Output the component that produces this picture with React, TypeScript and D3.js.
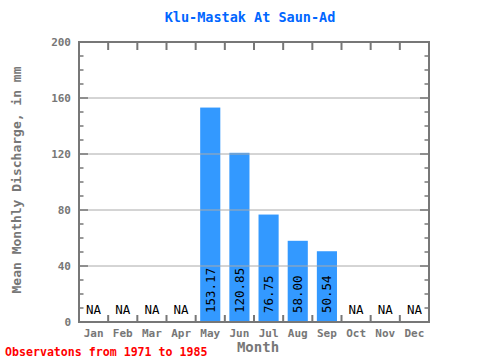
import React from "react";
import * as d3 from "d3";

const months = ["Jan","Feb","Mar","Apr","May","Jun","Jul","Aug","Sep","Oct","Nov","Dec"];
const values: (number | null)[] = [null,null,null,null,153.17,120.85,76.75,58.00,50.54,null,null,null];
const yTicks = [0,40,80,120,160,200];
const title = "Klu-Mastak At Saun-Ad";
const yLabel = "Mean Monthly Discharge, in mm";
const xLabel = "Month";
const footer = "Observatons from 1971 to 1985";

const W = 480, H = 360;
const L = 79, R = 429, T = 42, B = 322;
const font = "'DejaVu Sans Mono', 'Liberation Mono', monospace";
const axisColor = "#777777";

export default function App() {
  const x = d3.scaleBand<string>().domain(months).range([L, R]).paddingInner(0.31).paddingOuter(0.155);
  const xb = d3.scaleBand<string>().domain(months).range([L, R]);
  const y = d3.scaleLinear().domain([0, 200]).range([B, T]);
  const minor = d3.range(0, 201, 10);
  return (
    <svg width={W} height={H} style={{ position: "absolute", left: 0, top: 0 }}>
      <rect width={W} height={H} fill="white" />
      <text x={250} y={22} textAnchor="middle" fill="#0066ff" fontFamily={font} fontWeight="bold" fontSize={13.5}>{title}</text>
      {months.map((m, i) => {
        const v = values[i];
        if (v == null) return null;
        return <rect key={m} x={x(m)} y={y(v)} width={x.bandwidth()} height={B - y(v)} fill="#3399ff" />;
      })}
      {yTicks.filter(t => t > 0 && t < 200).map(t => (
        <line key={t} x1={L} x2={R} y1={y(t)} y2={y(t)} stroke="#aaaaaa" strokeWidth={1} />
      ))}
      {minor.map(t => {
        const major = t % 40 === 0;
        const len = major ? 9 : 4.5;
        return (
          <g key={t}>
            <line x1={L} x2={L + len} y1={y(t)} y2={y(t)} stroke={axisColor} strokeWidth={1.5} />
            <line x1={R} x2={R - len} y1={y(t)} y2={y(t)} stroke={axisColor} strokeWidth={1.5} />
          </g>
        );
      })}
      {months.slice(1).map(m => (
        <g key={m}>
          <line x1={xb(m)} x2={xb(m)} y1={T} y2={T + 8} stroke={axisColor} strokeWidth={2} />
          <line x1={xb(m)} x2={xb(m)} y1={B} y2={B - 7} stroke={axisColor} strokeWidth={2} />
        </g>
      ))}
      <rect x={L} y={T} width={R - L} height={B - T} fill="none" stroke={axisColor} strokeWidth={2} />
      {yTicks.map(t => (
        <text key={t} x={71} y={y(t) + 4} textAnchor="end" fill={axisColor} fontFamily={font} fontWeight="bold" fontSize={11}>{t}</text>
      ))}
      {months.map(m => (
        <text key={m} x={xb(m)! + xb.bandwidth() / 2} y={337} textAnchor="middle" fill={axisColor} fontFamily={font} fontWeight="bold" fontSize={11}>{m}</text>
      ))}
      {months.map((m, i) => {
        const v = values[i];
        const cx = xb(m)! + xb.bandwidth() / 2;
        if (v == null) {
          return <text key={m} x={cx} y={314} textAnchor="middle" fill="#000" fontFamily={font} fontSize={12.5}>NA</text>;
        }
        return (
          <text key={m} transform={`translate(${cx + 4.5},${313}) rotate(-90)`} textAnchor="start" fill="#000" fontFamily={font} fontSize={12.5}>{v.toFixed(2)}</text>
        );
      })}
      <text transform={`translate(21,${180}) rotate(-90)`} textAnchor="middle" fill={axisColor} fontFamily={font} fontWeight="bold" fontSize={13}>{yLabel}</text>
      <text x={258} y={352} textAnchor="middle" fill={axisColor} fontFamily={font} fontWeight="bold" fontSize={14}>{xLabel}</text>
      <text x={5} y={356} fill="#ff0000" fontFamily={font} fontWeight="bold" fontSize={11.6}>{footer}</text>
    </svg>
  );
}
